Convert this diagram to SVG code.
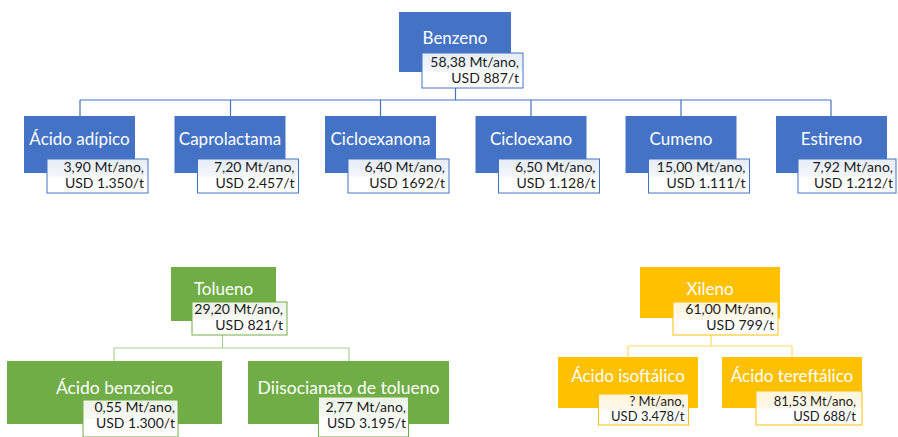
<svg xmlns="http://www.w3.org/2000/svg" width="898" height="437" viewBox="0 0 898 437">
<defs>
<linearGradient id="gb" x1="0" y1="0" x2="0" y2="1"><stop offset="0" stop-color="#E6ECF6"/><stop offset="0.5" stop-color="#F3F6FB"/><stop offset="0.55" stop-color="#FFFFFF"/><stop offset="1" stop-color="#FFFFFF"/></linearGradient>
<linearGradient id="gg" x1="0" y1="0" x2="0" y2="1"><stop offset="0" stop-color="#EDF3E8"/><stop offset="0.5" stop-color="#F6F9F3"/><stop offset="0.55" stop-color="#FFFFFF"/><stop offset="1" stop-color="#FFFFFF"/></linearGradient>
<linearGradient id="gy" x1="0" y1="0" x2="0" y2="1"><stop offset="0" stop-color="#FFF4DA"/><stop offset="0.5" stop-color="#FFF9EC"/><stop offset="0.55" stop-color="#FFFFFF"/><stop offset="1" stop-color="#FFFFFF"/></linearGradient>
</defs>
<style>
text{font-family:Lato,"Open Sans","Liberation Sans",sans-serif}
.t{fill:#FFFFFF;font-size:17px;text-anchor:middle}
.tl{fill:#FFFFFF;font-size:17.5px;text-anchor:middle}
.i{fill:#1A1A1A;font-size:14px;text-anchor:end}
.is{fill:#1A1A1A;font-size:13px;text-anchor:end}
.b{fill:#4472C4}
.g{fill:#70AD47}
.y{fill:#FFC000}
.ib{fill:url(#gb);stroke:#4472C4;stroke-width:1}
.ig{fill:url(#gg);stroke:#70AD47;stroke-width:1}
.iy{fill:url(#gy);stroke:#FFC000;stroke-width:1}
.cb{fill:none;stroke:#4472C4;stroke-width:1.2}
.cg{fill:none;stroke:#A9D18E;stroke-width:1.2}
.cy{fill:none;stroke:#FFD966;stroke-width:1.2}
</style>
<g id="connectors">
<path class="cb" d="M455.5,88 V100 M80,100 H831 M80,100 V116 M230.5,100 V116 M380.5,100 V116 M531,100 V116 M681,100 V116 M831,100 V116"/>
<path class="cg" d="M222.5,335 V348 M114,348 H349 M114,348 V361 M349,348 V361"/>
<path class="cy" d="M711,335 V346 M628,346 H792 M628,346 V357 M792,346 V357"/>
</g>
<g id="benzeno">
<rect class="b" x="399" y="12" width="112" height="60"/>
<text class="t" x="455" y="44">Benzeno</text>
<rect class="ib" x="422" y="53" width="101" height="35"/>
<text class="i" x="519" y="67">58,38 Mt/ano,</text>
<text class="i" x="519" y="83">USD 887/t</text>
</g>
<g id="acido-adipico">
<rect class="b" x="24" y="116" width="111" height="57"/>
<text class="t" x="79.5" y="145">Ácido adípico</text>
<rect class="ib" x="47" y="159" width="101" height="34"/>
<text class="i" x="144" y="172">3,90 Mt/ano,</text>
<text class="i" x="144" y="188">USD 1.350/t</text>
</g>
<g id="caprolactama">
<rect class="b" x="174.5" y="116" width="111" height="57"/>
<text class="t" x="230" y="145">Caprolactama</text>
<rect class="ib" x="197.5" y="159" width="101" height="34"/>
<text class="i" x="294.5" y="172">7,20 Mt/ano,</text>
<text class="i" x="294.5" y="188">USD 2.457/t</text>
</g>
<g id="cicloexanona">
<rect class="b" x="325" y="116" width="111" height="57"/>
<text class="t" x="380.5" y="145">Cicloexanona</text>
<rect class="ib" x="348" y="159" width="101" height="34"/>
<text class="i" x="445" y="172">6,40 Mt/ano,</text>
<text class="i" x="445" y="188">USD 1692/t</text>
</g>
<g id="cicloexano">
<rect class="b" x="475.5" y="116" width="111" height="57"/>
<text class="t" x="531" y="145">Cicloexano</text>
<rect class="ib" x="498.5" y="159" width="101" height="34"/>
<text class="i" x="595.5" y="172">6,50 Mt/ano,</text>
<text class="i" x="595.5" y="188">USD 1.128/t</text>
</g>
<g id="cumeno">
<rect class="b" x="625.5" y="116" width="111" height="57"/>
<text class="t" x="681" y="145">Cumeno</text>
<rect class="ib" x="648.5" y="159" width="101" height="34"/>
<text class="i" x="745.5" y="172">15,00 Mt/ano,</text>
<text class="i" x="745.5" y="188">USD 1.111/t</text>
</g>
<g id="estireno">
<rect class="b" x="776" y="116" width="111" height="57"/>
<text class="t" x="831.5" y="145">Estireno</text>
<rect class="ib" x="798" y="159" width="98" height="34"/>
<text class="i" x="893" y="172">7,92 Mt/ano,</text>
<text class="i" x="893" y="188">USD 1.212/t</text>
</g>
<g id="tolueno">
<rect class="g" x="171" y="267" width="105" height="54"/>
<text class="t" x="223.5" y="295">Tolueno</text>
<rect class="ig" x="192" y="302" width="95" height="33"/>
<text class="i" x="283" y="314">29,20 Mt/ano,</text>
<text class="i" x="283" y="330">USD 821/t</text>
</g>
<g id="acido-benzoico">
<rect class="g" x="7" y="361" width="215" height="63"/>
<text class="tl" x="114.5" y="394">Ácido benzoico</text>
<rect class="ig" x="83" y="400" width="95" height="37"/>
<text class="i" x="175" y="412">0,55 Mt/ano,</text>
<text class="i" x="175" y="428">USD 1.300/t</text>
</g>
<g id="diisocianato">
<rect class="g" x="248" y="361" width="201" height="63"/>
<text class="tl" x="348.5" y="394">Diisocianato de tolueno</text>
<rect class="ig" x="318.5" y="397" width="90" height="40"/>
<text class="i" x="406" y="412">2,77 Mt/ano,</text>
<text class="i" x="406" y="428">USD 3.195/t</text>
</g>
<g id="xileno">
<rect class="y" x="640" y="267" width="140" height="51"/>
<text class="t" x="710" y="295">Xileno</text>
<rect class="iy" x="673" y="302" width="105" height="33"/>
<text class="i" x="774" y="314">61,00 Mt/ano,</text>
<text class="i" x="774" y="330">USD 799/t</text>
</g>
<g id="acido-isoftalico">
<rect class="y" x="558" y="357" width="140" height="51"/>
<text class="t" x="628" y="382">Ácido isoftálico</text>
<rect class="iy" x="598.5" y="394" width="90" height="31"/>
<text class="is" x="684.5" y="406">? Mt/ano,</text>
<text class="is" x="684.5" y="421">USD 3.478/t</text>
</g>
<g id="acido-tereftalico">
<rect class="y" x="722" y="357" width="140" height="51"/>
<text class="t" x="792" y="382">Ácido tereftálico</text>
<rect class="iy" x="756" y="391" width="106" height="34"/>
<text class="is" x="856" y="406">81,53 Mt/ano,</text>
<text class="is" x="856" y="421">USD 688/t</text>
</g>
</svg>
